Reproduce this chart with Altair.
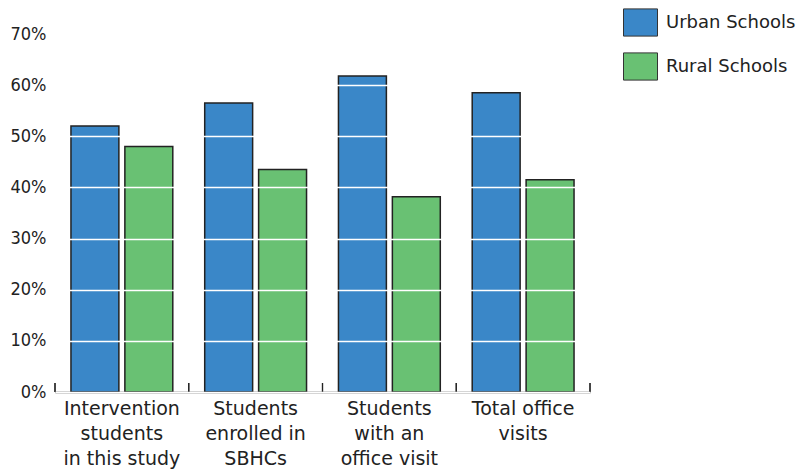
import altair as alt
import pandas as pd

# Share of students by school setting, four measures
categories = [
    "Intervention|students|in this study",
    "Students|enrolled in|SBHCs",
    "Students|with an|office visit",
    "Total office|visits",
]
series = ["Urban Schools", "Rural Schools"]
urban = [52.0, 56.5, 61.8, 58.5]
rural = [48.0, 43.5, 38.2, 41.5]
colors = ["#3a87c8", "#69c173"]

rows = []
for c, u, r in zip(categories, urban, rural):
    rows.append({"category": c, "school": series[0], "pct": u})
    rows.append({"category": c, "school": series[1], "pct": r})
df = pd.DataFrame(rows)

FONT = "DejaVu Sans"
W, H = 535, 358

x_scale = alt.Scale(domain=categories, paddingInner=0, paddingOuter=0)

bars = alt.Chart(df).mark_bar(stroke="#222222", strokeWidth=1.5).encode(
    x=alt.X(
        "category:N",
        scale=x_scale,
        sort=categories,
        axis=alt.Axis(
            title=None,
            labelAngle=0,
            labelExpr="split(datum.label, '|')",
            labelFont=FONT,
            labelFontSize=19,
            labelColor="#222222",
            labelLineHeight=25,
            labelPadding=7,
            labelBaseline="top",
            ticks=False,
            domainColor="#222222",
            domainWidth=1.5,
            grid=False,
        ),
    ),
    xOffset=alt.XOffset(
        "school:N",
        sort=series,
        scale=alt.Scale(domain=series, paddingInner=0.111, paddingOuter=0.296),
    ),
    y=alt.Y(
        "pct:Q",
        scale=alt.Scale(domain=[0, 70], nice=False),
        axis=alt.Axis(
            title=None,
            values=[0, 10, 20, 30, 40, 50, 60, 70],
            labelExpr="datum.value + '%'",
            labelFont="DejaVu Sans Condensed",
            labelFontSize=18,
            labelColor="#222222",
            labelPadding=9,
            ticks=False,
            domain=False,
            grid=True,
            gridColor="white",
            gridWidth=1.5,
            zindex=1,
        ),
    ),
    color=alt.Color(
        "school:N",
        sort=series,
        scale=alt.Scale(domain=series, range=colors),
        legend=alt.Legend(
            title=None,
            orient="none",
            legendX=568,
            legendY=-29,
            symbolType="M-1,-0.8L1,-0.8L1,0.8L-1,0.8Z",
            symbolSize=1156,
            symbolStrokeColor="#333333",
            symbolStrokeWidth=1,
            symbolOpacity=1,
            labelFont=FONT,
            labelFontSize=18,
            labelColor="#222222",
            labelOffset=8,
            rowPadding=10,
        ),
    ),
)

# Upward tick marks at the category boundaries on the baseline
tick_starts = alt.Chart(df).mark_rule(color="#222222", strokeWidth=1.2).encode(
    x=alt.X("category:N", scale=x_scale, sort=categories, bandPosition=0),
    y=alt.value(H - 9),
    y2=alt.value(H),
)
tick_end = alt.Chart(df[df["category"] == categories[-1]]).mark_rule(
    color="#222222", strokeWidth=1.2
).encode(
    x=alt.X("category:N", scale=x_scale, sort=categories, bandPosition=1),
    y=alt.value(H - 9),
    y2=alt.value(H),
)

chart = (
    alt.layer(bars, tick_starts, tick_end)
    .properties(
        width=W,
        height=H,
        background="white",
        autosize=alt.AutoSizeParams(type="none"),
        padding={"left": 55, "top": 34, "right": 211, "bottom": 83},
    )
    .configure_view(stroke=None, strokeWidth=0)
)

chart.save("out.html", embed_options={"renderer": "svg", "actions": False})
